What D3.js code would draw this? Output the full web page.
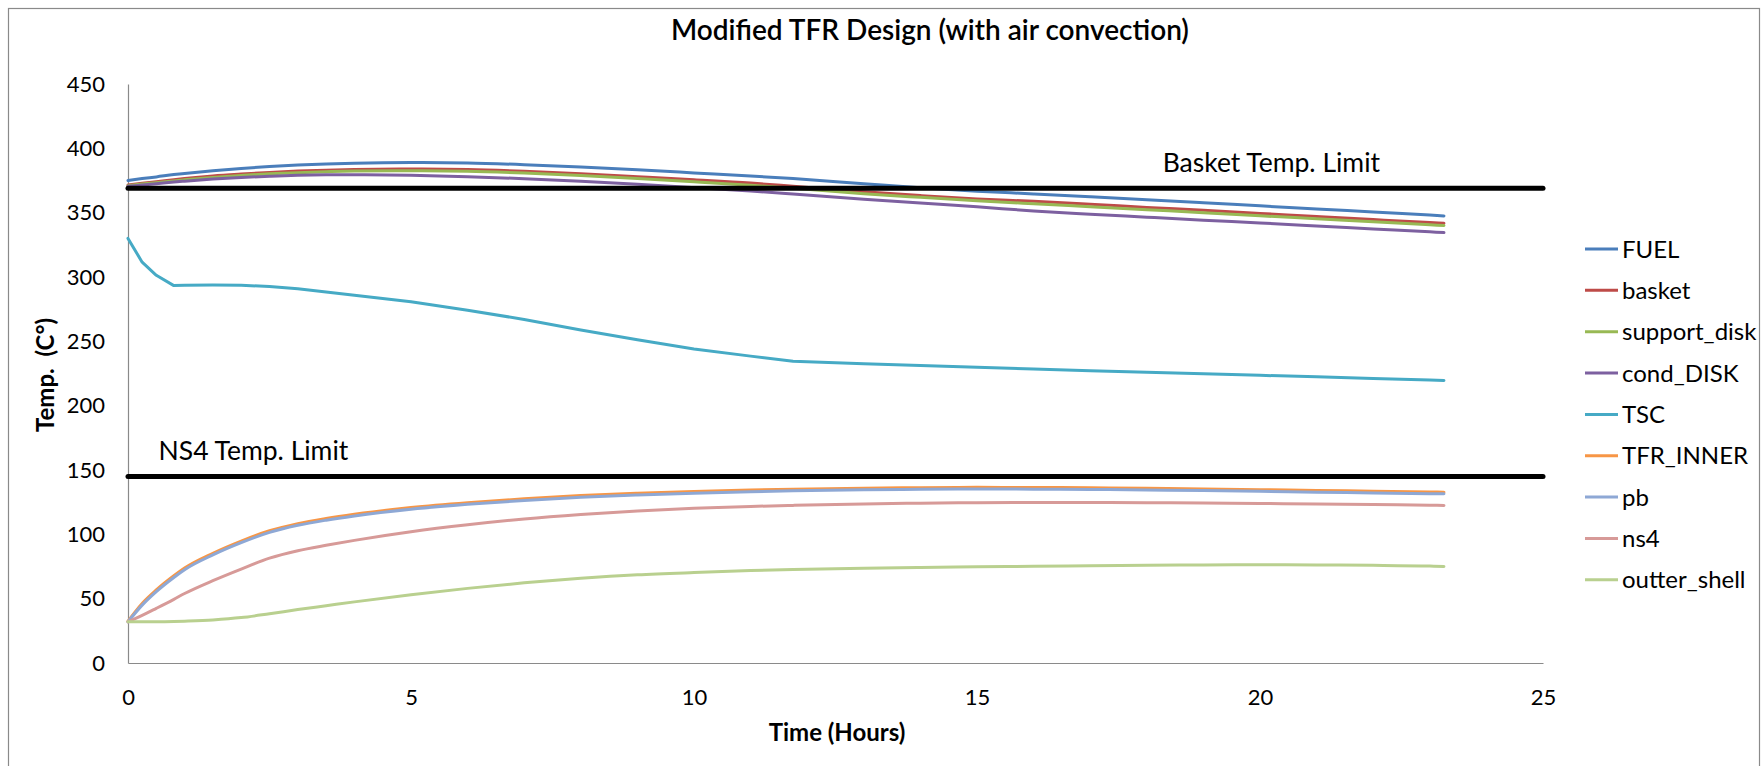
<!DOCTYPE html>
<html>
<head>
<meta charset="utf-8">
<script src="https://cdn.jsdelivr.net/npm/d3@7"></script>
<style>
  html, body { margin: 0; padding: 0; background: #fff; }
  svg text { font-family: Lato, "Open Sans", sans-serif; fill: #000; }
</style>
</head>
<body>
<svg id="chart" width="1762" height="766"></svg>
<script>
// time axis (hours) shared by every series
var hours = [0, 0.25, 0.5, 0.81, 1, 1.5, 2, 2.5, 3, 3.5, 4, 5, 6, 7, 8, 9, 10, 11, 11.75, 13, 14, 15, 16, 17, 18, 19, 20, 21, 22, 23, 23.25]

var fuel = [375, 376.5, 377.8, 379.6, 380.5, 382.6, 384.4, 385.9, 387, 387.9, 388.5, 389, 388.6, 387.3, 385.5, 383.3, 380.9, 378.5, 376.5, 372.5, 369.3, 366.7, 364.6, 362.4, 360.1, 357.7, 355.3, 352.9, 350.5, 348.1, 347.5]
var basket = [371.5, 372.8, 374, 375.6, 376.5, 378.5, 380, 381.3, 382.3, 383, 383.5, 383.9, 383.5, 382.2, 380.3, 378, 375.6, 373, 370.5, 366.2, 363.3, 360.7, 358.8, 356.5, 354.1, 351.8, 349.4, 347, 344.6, 342.3, 341.8]
var supportDisk = [371, 372.2, 373.3, 374.7, 375.5, 377.4, 378.9, 380.2, 381.1, 381.8, 382.3, 382.6, 382.2, 380.8, 378.8, 376.5, 374, 371.3, 369, 364.7, 361.9, 359.3, 356.9, 354.6, 352.3, 350, 347.6, 345.3, 343, 340.6, 340]
var condDisk = [370.5, 371.5, 372.5, 373.8, 374.5, 376.1, 377.4, 378.3, 379, 379.4, 379.5, 379.1, 378, 376.4, 374.4, 372.1, 369.5, 366.8, 364.5, 360.5, 357.5, 354.6, 351.3, 348.8, 346.5, 344.2, 342, 339.7, 337.4, 335.1, 334.5]
var tsc = [330, 311.5, 301.3, 293.3, 293.5, 293.7, 293.6, 292.6, 290.8, 288.3, 285.8, 280.8, 274.2, 267, 258.8, 251.2, 244, 238.5, 234.5, 232.5, 231.2, 229.8, 228.5, 227.2, 226, 224.8, 223.6, 222.4, 221.2, 220, 219.6]
var tfrInner = [32.5, 46.3, 56.8, 67.8, 73.8, 85.3, 94.8, 102.8, 108.3, 112.3, 115.6, 120.8, 124.6, 127.6, 130.1, 131.9, 133.3, 134.4, 135.1, 135.9, 136.3, 136.5, 136.4, 136.2, 135.8, 135.3, 134.7, 134.1, 133.5, 132.9, 132.8]
var pb = [32, 45, 55.5, 66.5, 72.5, 84, 93.5, 101.5, 107, 111, 114.3, 119.5, 123.3, 126.3, 128.8, 130.6, 132, 133.1, 133.8, 134.6, 135, 135.2, 135.1, 134.9, 134.5, 134, 133.4, 132.8, 132.2, 131.6, 131.5]
var ns4 = [32, 37, 42.5, 49.5, 54, 64, 73, 81.5, 87.3, 91.5, 95.3, 102, 107.4, 111.9, 115.4, 118.2, 120.2, 121.7, 122.5, 123.6, 124.2, 124.6, 124.8, 124.8, 124.6, 124.3, 124, 123.6, 123.2, 122.6, 122.5]
var outterShell = [32, 32, 32, 32.2, 32.5, 33.5, 35.3, 38.3, 41.5, 44.5, 47.5, 53, 58, 62.3, 65.8, 68.5, 70.3, 71.8, 72.6, 73.6, 74.3, 74.8, 75.2, 75.6, 75.9, 76.2, 76.3, 76.2, 75.9, 75.3, 75]

var seriesNames = ['FUEL', 'basket', 'support_disk', 'cond_DISK', 'TSC', 'TFR_INNER', 'pb', 'ns4', 'outter_shell']
var seriesValues = [fuel, basket, supportDisk, condDisk, tsc, tfrInner, pb, ns4, outterShell]
var seriesColors = ['#4a7ebb', '#be4b48', '#98b954', '#7d60a0', '#46aac5', '#f79646', '#8ea8d5', '#d79a98', '#b9d08f']

// horizontal limits
var limitNames = ['Basket Temp. Limit', 'NS4 Temp. Limit']
var limitValues = [369, 145]
var limitLabelHour = [18.28, 0.54]

var yTicks = [0, 50, 100, 150, 200, 250, 300, 350, 400, 450]
var xTicks = [0, 5, 10, 15, 20, 25]

var svg = d3.select('#chart')

var x = d3.scaleLinear().domain([0, 25]).range([128, 1543])
var y = d3.scaleLinear().domain([0, 450]).range([663, 84])

// chart frame (bottom edge falls outside the picture)
svg.append('rect')
    .attr('x', 8.5).attr('y', 8.5)
    .attr('width', 1751).attr('height', 770)
    .attr('fill', 'none')
    .attr('stroke', '#8a8a8a')
    .attr('stroke-width', 1.2)

svg.append('text')
    .attr('x', 930).attr('y', 39.5)
    .attr('text-anchor', 'middle')
    .style('font-size', '28px')
    .style('font-weight', '600')
    .text('Modified TFR Design (with air convection)')

// axes
svg.append('g')
    .attr('transform', 'translate(0,' + y(0) + ')')
    .call(d3.axisBottom(x).tickValues(xTicks).tickSize(0).tickPadding(26).tickFormat(d3.format('d')))
svg.append('g')
    .attr('transform', 'translate(' + x(0) + ',0)')
    .call(d3.axisLeft(y).tickValues(yTicks).tickSize(0).tickPadding(23).tickFormat(d3.format('d')))

svg.selectAll('.domain').attr('stroke', '#8a8a8a').attr('stroke-width', 1.2)
svg.selectAll('.tick text')
    .style('font-size', '22px')
    .style('font-family', 'Lato, sans-serif')
    .attr('fill', '#000')

svg.append('text')
    .attr('x', 837).attr('y', 741)
    .attr('text-anchor', 'middle')
    .style('font-size', '24px')
    .style('font-weight', 'bold')
    .text('Time (Hours)')

svg.append('text')
    .attr('transform', 'translate(54,375) rotate(-90)')
    .attr('text-anchor', 'middle')
    .style('font-size', '24px')
    .style('font-weight', 'bold')
    .style('white-space', 'pre')
    .text('Temp.  (C\u00b0)')

// series lines
var line = d3.line()
    .x(function (d) { return x(d[0]) })
    .y(function (d) { return y(d[1]) })

seriesValues.forEach(function (vals, i) {
    var pts = hours.map(function (h, j) { return [h, vals[j]] })
    svg.append('path')
        .datum(pts)
        .attr('class', 'series')
        .attr('fill', 'none')
        .attr('stroke', seriesColors[i])
        .attr('stroke-width', 3)
        .attr('stroke-linejoin', 'round')
        .attr('stroke-linecap', 'round')
        .attr('d', line.curve(seriesNames[i] == 'TSC' ? d3.curveLinear : d3.curveMonotoneX))
})

// limit lines on top
limitValues.forEach(function (v, i) {
    svg.append('line')
        .attr('x1', x(0)).attr('x2', x(25))
        .attr('y1', y(v)).attr('y2', y(v))
        .attr('stroke', '#000')
        .attr('stroke-width', 5)
        .attr('stroke-linecap', 'round')
    svg.append('text')
        .attr('x', x(limitLabelHour[i]))
        .attr('y', y(v) - 16.5)
        .style('font-size', '26.5px')
        .text(limitNames[i])
})

// legend
var legend = svg.append('g').attr('transform', 'translate(1585,249)')
var item = legend.selectAll('.item')
    .data(seriesNames)
    .enter().append('g')
    .attr('class', 'item')
    .attr('transform', function (d, i) { return 'translate(0,' + (i * 41.35) + ')' })
item.append('line')
    .attr('x1', 0).attr('x2', 33)
    .attr('stroke', function (d, i) { return seriesColors[i] })
    .attr('stroke-width', 3)
item.append('text')
    .attr('x', 37).attr('dy', '0.36em')
    .style('font-size', '24px')
    .text(function (d) { return d })
</script>
</body>
</html>
